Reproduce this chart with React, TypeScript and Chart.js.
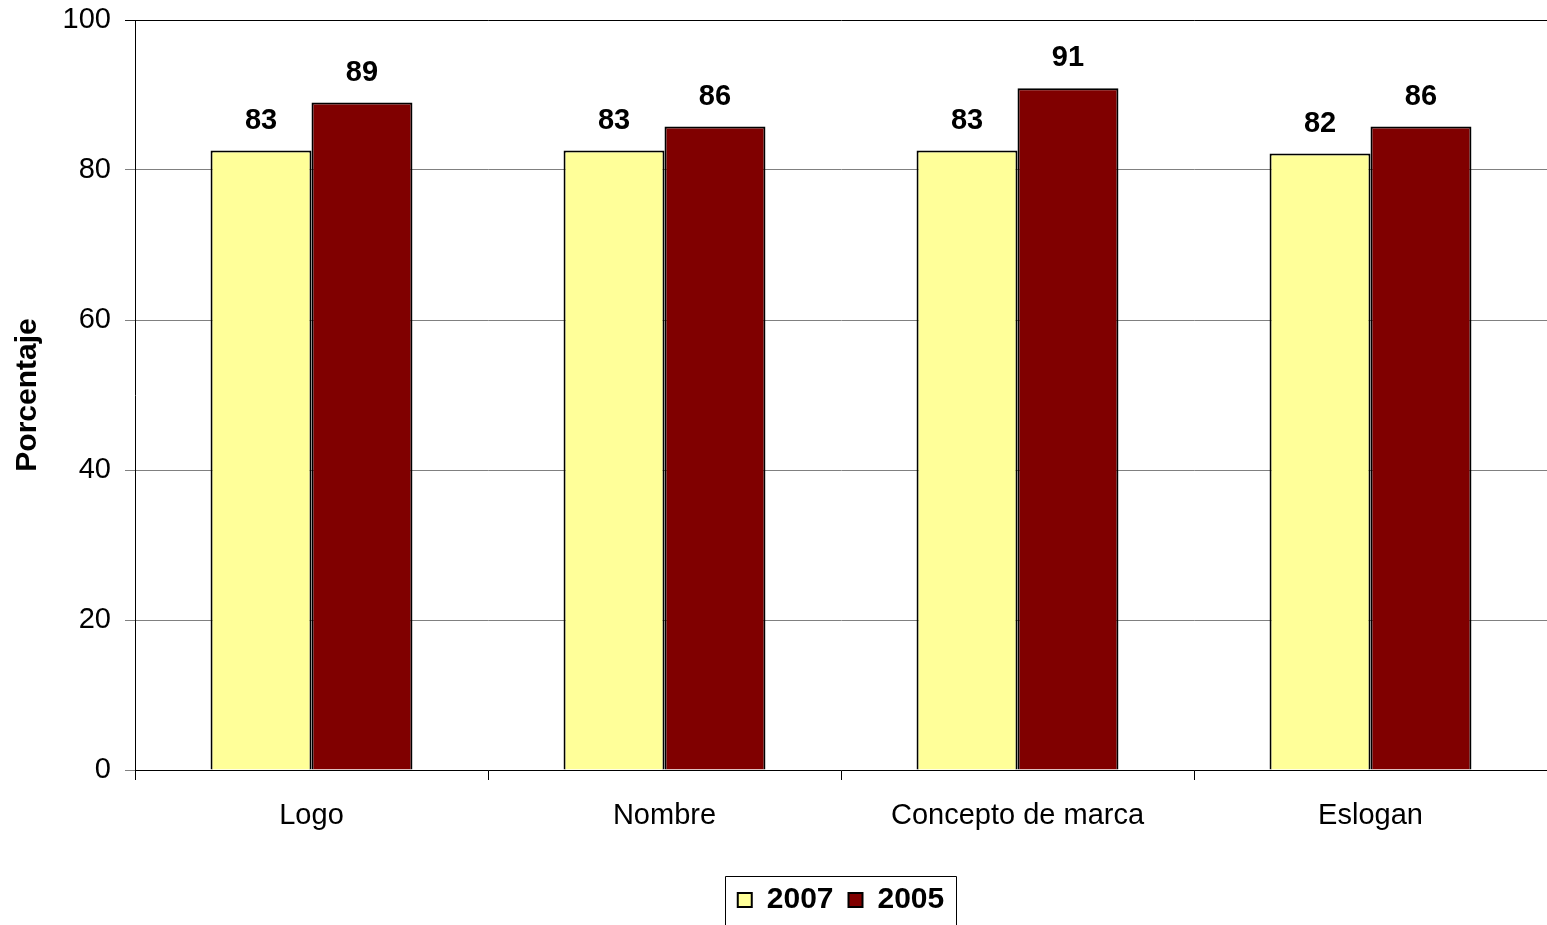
import React, { useEffect, useRef } from "react";
import { Chart, registerables } from "chart.js";

Chart.register(...registerables);

const categories = ["Logo", "Nombre", "Concepto de marca", "Eslogan"];
const seriesNames = ["2007", "2005"];
const values2007 = [82.6, 82.6, 82.6, 82.2];
const values2005 = [89.0, 85.8, 90.9, 85.8];
const labels2007 = ["83", "83", "83", "82"];
const labels2005 = ["89", "86", "91", "86"];
const yTicks = [0, 20, 40, 60, 80, 100];

const FONT = "'Liberation Sans', Arial, sans-serif";

const valueLabelPlugin = {
  id: "valueLabels",
  afterDatasetsDraw(chart: any) {
    const ctx = chart.ctx;
    const texts = [labels2007, labels2005];
    ctx.save();
    ctx.font = `bold 29px ${FONT}`;
    ctx.fillStyle = "#000";
    ctx.textAlign = "center";
    ctx.textBaseline = "alphabetic";
    chart.data.datasets.forEach((_: any, di: number) => {
      const meta = chart.getDatasetMeta(di);
      meta.data.forEach((el: any, i: number) => {
        ctx.fillText(texts[di][i], el.x, el.y - 22);
      });
    });
    ctx.restore();
  },
};

const legendBoxPlugin = {
  id: "legendBox",
  afterDraw(chart: any) {
    const lg = chart.legend;
    if (!lg || !lg.legendHitBoxes || !lg.legendHitBoxes.length) return;
    const boxes = lg.legendHitBoxes;
    const first = boxes[0];
    const last = boxes[boxes.length - 1];
    const ctx = chart.ctx;
    ctx.save();
    ctx.strokeStyle = "#000";
    ctx.lineWidth = 1;
    const left = Math.round(first.left - 13) + 0.5;
    const right = Math.round(last.left + last.width + 12) + 0.5;
    const top = Math.round(first.top - 9) + 0.5;
    const bottom = chart.height + 2;
    ctx.beginPath();
    ctx.moveTo(left, bottom);
    ctx.lineTo(left, top);
    ctx.lineTo(right, top);
    ctx.lineTo(right, bottom);
    ctx.stroke();
    ctx.restore();
  },
};

export default function App() {
  const ref = useRef<HTMLCanvasElement | null>(null);
  useEffect(() => {
    document.body.style.margin = "0";
    if (!ref.current) return;
    const chart = new Chart(ref.current, {
      type: "bar",
      data: {
        labels: categories,
        datasets: [
          {
            label: seriesNames[0],
            data: values2007,
            backgroundColor: "#FFFF99",
            borderColor: "#000",
            borderWidth: 2,
            categoryPercentage: 0.572,
            barPercentage: 1,
          },
          {
            label: seriesNames[1],
            data: values2005,
            backgroundColor: "#800000",
            borderColor: "#000",
            borderWidth: 2,
            categoryPercentage: 0.572,
            barPercentage: 1,
          },
        ],
      },
      options: {
        responsive: false,
        animation: false,
        layout: { padding: { top: 20, right: 0, left: 0, bottom: 0 } },
        plugins: {
          tooltip: { enabled: false },
          legend: {
            position: "bottom",
            fullSize: false,
            labels: {
              font: { family: FONT, size: 30, weight: "bold" },
              color: "#000",
              boxWidth: 14,
              boxHeight: 14,
              padding: 15,
              useBorderRadius: false,
            },
          },
        },
        scales: {
          x: {
            offset: true,
            grid: {
              display: true,
              drawOnChartArea: false,
              drawTicks: true,
              tickLength: 10,
              color: "#000",
              offset: true,
            },
            border: { display: true, color: "#000", width: 1 },
            ticks: {
              font: { family: FONT, size: 29 },
              color: "#000",
              padding: 19,
              maxRotation: 0,
            },
            afterFit: (s: any) => {
              s.height = 100;
            },
          },
          y: {
            min: 0,
            max: 100,
            afterBuildTicks: (s: any) => {
              s.ticks = yTicks.map((v) => ({ value: v }));
            },
            grid: {
              color: (c: any) => (c.tick && c.tick.value === 100 ? "#000" : "#808080"),
              lineWidth: 1,
              drawTicks: true,
              tickLength: 10,
            },
            border: { display: true, color: "#000", width: 1 },
            ticks: {
              font: { family: FONT, size: 29 },
              color: "#000",
              padding: 14,
            },
            title: {
              display: true,
              text: "Porcentaje",
              font: { family: FONT, size: 30, weight: "bold" },
              color: "#000",
              padding: { top: 10, bottom: 0 },
            },
            afterFit: (s: any) => {
              s.width = 135;
              s.paddingTop = 0;
              s.paddingBottom = 0;
            },
          },
        },
      },
      plugins: [valueLabelPlugin, legendBoxPlugin],
    });
    return () => chart.destroy();
  }, []);
  return (
    <div style={{ width: 1547, height: 925 }}>
      <canvas ref={ref} width={1547} height={925} style={{ display: "block" }} />
    </div>
  );
}
